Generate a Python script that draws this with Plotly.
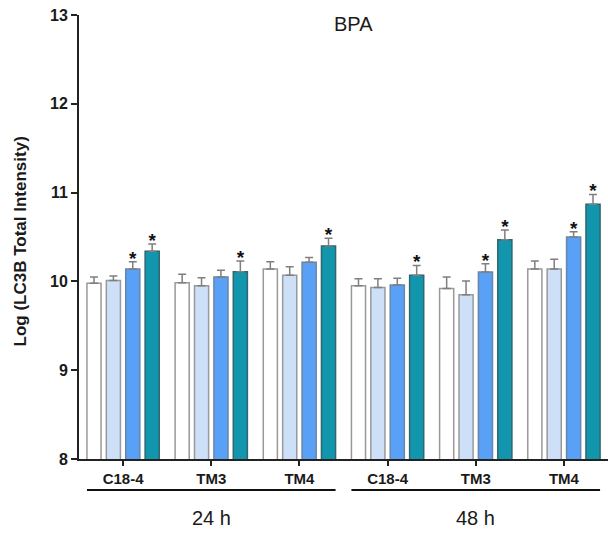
import plotly.graph_objects as go

cell_lines = ["C18-4", "TM3", "TM4", "C18-4", "TM3", "TM4"]
times = ["24 h", "48 h"]
series_names = ["Control", "BPA low", "BPA mid", "BPA high"]

means_control = [9.98, 9.985, 10.14, 9.95, 9.92, 10.14]
means_low = [10.01, 9.95, 10.07, 9.93, 9.85, 10.14]
means_mid = [10.14, 10.05, 10.215, 9.96, 10.105, 10.50]
means_high = [10.34, 10.11, 10.40, 10.07, 10.47, 10.87]

sem_control = [0.07, 0.095, 0.08, 0.08, 0.13, 0.09]
sem_low = [0.05, 0.09, 0.095, 0.10, 0.155, 0.11]
sem_mid = [0.08, 0.075, 0.055, 0.075, 0.095, 0.06]
sem_high = [0.08, 0.12, 0.085, 0.11, 0.11, 0.11]

sig_control = [0, 0, 0, 0, 0, 0]
sig_low = [0, 0, 0, 0, 0, 0]
sig_mid = [1, 0, 0, 0, 1, 1]
sig_high = [1, 1, 1, 1, 1, 1]

y_ticks = [8, 9, 10, 11, 12, 13]

fills = ["#ffffff", "#cde0f7", "#58a1f7", "#1296ad"]
outlines = ["#999999", "#999999", "#6a86a6", "#2f6670"]

all_means = [means_control, means_low, means_mid, means_high]
all_sems = [sem_control, sem_low, sem_mid, sem_high]
all_sigs = [sig_control, sig_low, sig_mid, sig_high]

FONT = "Liberation Sans, Arial, sans-serif"
pitch = 0.22
bw = 0.16
n = len(series_names)

fig = go.Figure()
for s in range(n):
    xs = [g + (s - (n - 1) / 2) * pitch for g in range(len(cell_lines))]
    fig.add_trace(go.Bar(
        x=xs, y=all_means[s], width=bw, name=series_names[s],
        marker=dict(color=fills[s], line=dict(color=outlines[s], width=1.5)),
        error_y=dict(type="data", array=all_sems[s], arrayminus=[0] * len(cell_lines),
                     symmetric=False, color="#7f7f7f", thickness=1.5, width=4),
        showlegend=False,
    ))
    sx = [x for x, f in zip(xs, all_sigs[s]) if f]
    sy = [m + e + 0.02 for m, e, f in zip(all_means[s], all_sems[s], all_sigs[s]) if f]
    if sx:
        fig.add_trace(go.Scatter(
            x=sx, y=sy, mode="text", text=["<b>*</b>"] * len(sx),
            textposition="middle center",
            textfont=dict(family=FONT, size=19, color="#111111"),
            showlegend=False, hoverinfo="skip",
        ))

fig.update_layout(
    width=608, height=534,
    margin=dict(l=79, r=0, t=15, b=75),
    paper_bgcolor="white", plot_bgcolor="white",
    barmode="overlay",
    font=dict(family=FONT, color="#1a1a1a"),
    showlegend=False,
)
fig.update_yaxes(
    range=[8, 13], tickvals=y_ticks, ticktext=["<b>%d</b>" % v for v in y_ticks],
    showgrid=False, zeroline=False,
    showline=True, linecolor="#222222", linewidth=2,
    ticks="outside", ticklen=6, tickwidth=2, tickcolor="#222222",
    tickfont=dict(family=FONT, size=16, color="#1a1a1a"),
)
fig.update_xaxes(
    range=[-0.5, 5.5], tickvals=list(range(len(cell_lines))),
    ticktext=["<b>%s</b>" % c for c in cell_lines],
    tickfont=dict(family=FONT, size=15, color="#1a1a1a"),
    showgrid=False, zeroline=False,
    showline=True, linecolor="#222222", linewidth=2,
    ticks="outside", ticklen=5, tickwidth=2, tickcolor="#222222",
)

# y axis title
fig.add_annotation(x=-0.1115, y=0.49, xref="paper", yref="paper",
                   text="<b>Log (LC3B Total Intensity)</b>", textangle=-90,
                   showarrow=False, xanchor="center", yanchor="middle",
                   font=dict(family=FONT, size=17, color="#1a1a1a"))

# group brackets and time labels
for i, t in enumerate(times):
    g0 = i * 3
    fig.add_shape(type="line", xref="x", yref="paper",
                  x0=g0 - 0.41, x1=g0 + 2.41, y0=-0.07, y1=-0.07,
                  line=dict(color="#111111", width=2))
    fig.add_annotation(x=g0 + 1, y=-0.133, xref="x", yref="paper",
                       text=t, showarrow=False, yanchor="middle",
                       font=dict(family=FONT, size=20, color="#1a1a1a"))

fig.add_annotation(x=0.518, y=12.9, xref="paper", yref="y", text="BPA",
                   showarrow=False, yanchor="middle",
                   font=dict(family=FONT, size=20, color="#1a1a1a"))

fig.write_html("out.html")
